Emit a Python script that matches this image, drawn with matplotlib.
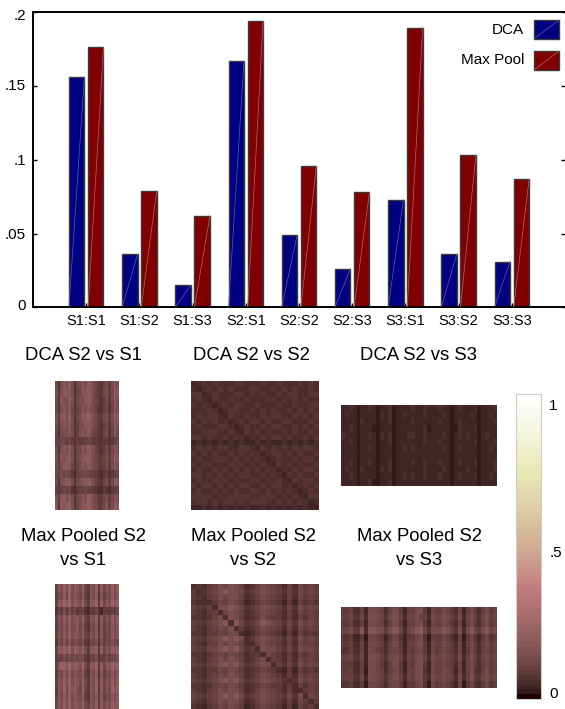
#!/usr/bin/env python3
"""Bar chart of scores per session pair, with similarity matrices underneath."""
import matplotlib

matplotlib.use("Agg")
import matplotlib.pyplot as plt
import numpy as np
from matplotlib.patches import Rectangle
from matplotlib.transforms import ScaledTranslation

W, H = 565, 709

PAIRS = ["S1:S1", "S1:S2", "S1:S3", "S2:S1", "S2:S2", "S2:S3", "S3:S1", "S3:S2", "S3:S3"]
DCA = [0.156, 0.036, 0.015, 0.1665, 0.049, 0.026, 0.073, 0.036, 0.031]
MAX_POOL = [0.176, 0.079, 0.062, 0.194, 0.0955, 0.078, 0.1895, 0.103, 0.0867]

# matrices read by eye on a coarse grid, one hex digit per cell
DCA_S2_S1 = [
    "849A9B 8479A9 BA9754 7958A9", "959BAA 8468AA BB9655 8968BA", "84A99B 94799A BA8754 6958A9",
    "748A8A 7468A9 A98644 6847A9", "95AB9C 8479BA CB9755 8969BA", "859A9A 84689A AA8754 6858A9",
    "74899A 8469A9 B97654 7947A8", "667767 546566 775544 554567", "849A9B 8478A9 BA9654 6958A9",
    "95A9AB 8479AB BA9755 7969BA", "859BAA 7468A9 BA8755 6958A9", "768787 536778 766543 564567",
    "849AAB 8479AA BA9654 7958BA", "656767 435667 665433 543566", "95AB9A 8479A9 CB9755 7968A9",
    "A4BABC 9479BA CB9855 8A69CB",
]
MAX_S2_S1 = [
    "6A9C8D 9BA8C7 5A9C5B 7A8C9B", "598B7C 8A97B6 4A8B4A 698B8A", "6BADAE 9CB9D8 5BAD5C 7B9DAC",
    "475959 685674 365742 655657", "6A9C8C 9AA8C7 5A9C5B 7A8C9B", "598A7B 89A7A6 498A4A 697A8A",
    "6A8B8C 9AA8B7 5A8B5A 698B9A", "497A6A 798795 487949 687987", "6BACAD 9CB9D8 5BAC5C 7B9CAC",
    "576968 797985 476946 686879", "6ADCAE ACB9E8 5BAD5C 7BADBC", "598B7B 8A98B6 4A8B4A 698B8A",
    "6A9C9D 9BA8C8 5A9C5B 7A9C9B", "5B9D8C AC97D7 5B9D4B 7A8DAC", "6A8B8C 8A98B6 4A8A5A 698A9A",
    "7B9C9D 9BA9C8 6A9C5B 8A9CAB",
]
DCA_S2_S2 = [
    "234343 334433 343343 334343", "323434 343334 433434 343343", "442343 334434 343343 443344",
    "343243 343343 334434 343433", "434323 434433 433343 343344", "333432 344334 343433 434343",
    "343443 243343 343443 343434", "434343 323434 434334 433343", "343334 432343 343443 343434",
    "334443 343243 434334 343343", "443433 434323 343443 433434", "232323 232322 323223 232323",
    "343434 433443 243434 343443", "434343 343434 323443 434334", "343344 434343 432343 343443",
    "434433 343434 343243 434334", "343343 434343 434323 343443", "443434 343443 343432 434334",
    "343343 434334 434343 243443", "434434 343443 343443 323434", "343343 434334 434343 432343",
    "444434 344443 344434 343244", "344343 443434 443343 434323", "223232 323232 232323 232322",
]
MAX_S2_S2 = [
    "343568 798634 687653 637565", "534679 A98745 798764 647676", "543568 798634 687653 637565",
    "433357 687523 576542 526454", "654639 9A9745 798764 748676", "543563 798634 687653 637565",
    "443468 398534 586553 536465", "654679 A3A745 7A9764 748676", "543568 793634 687653 637565",
    "443557 687323 576542 526454", "654679 A9A835 798764 748676", "543568 798633 687653 637565",
    "654779 A9A745 398864 748776", "443467 687534 537653 536465", "543568 798634 683653 637565",
    "654679 A9A745 798364 748676", "443557 687534 576532 526454", "543568 798634 687653 637565",
    "654679 A9A745 798764 348676", "443467 687534 576553 536465", "543568 798634 687653 633565",
    "654679 A9A745 798764 748376", "543568 798634 687653 637535", "432457 687523 576542 526453",
]
DCA_S2_S3 = [
    "22321223 21223122 22322322 23221232 22312223", "23221222 21323122 32222322 22321222 23212232",
    "22221322 21223122 22322222 23221232 22212223", "22321222 11222122 22222312 22221132 22312222",
    "32221223 21323122 23322322 22321232 32212322", "22321222 21223122 22222322 23221222 22312223",
    "22221223 21222122 32322222 22321232 22212232", "22221222 21222122 22222222 22221222 22212222",
    "22321223 21223122 22322322 23221232 22312223", "23221322 21323122 22222322 22321222 32212223",
    "22321222 21222122 32322322 23221232 22312232", "22221223 11223122 22222222 22221222 22212222",
]
MAX_S2_S3 = [
    "55633628 87636885 26689527 66875372 68536856", "66744739 98747996 37796638 77986483 79647967",
    "55633628 87636885 26689527 66875372 68536856", "77855A3A A9858AA7 378AB748 88A96493 8A758A78",
    "44522517 76525774 25578416 55764261 57425745", "55633628 87636885 26689527 66875372 68536856",
    "44633628 76536775 26578527 56765372 58536756", "66744729 98647896 37689638 77876483 69647867",
    "55533628 87536885 26589527 66765372 68536756", "55633618 87636785 26689427 66875272 68436856",
    "66644729 87647886 37689538 77876383 69547867", "44533517 76536775 25578417 56764271 57435745",
]

TITLES = ["DCA S2 vs S1", "DCA S2 vs S2", "DCA S2 vs S3",
          "Max Pooled S2\nvs S1", "Max Pooled S2\nvs S2", "Max Pooled S2\nvs S3"]
MATRICES = [DCA_S2_S1, DCA_S2_S2, DCA_S2_S3, MAX_S2_S1, MAX_S2_S2, MAX_S2_S3]


def px_axes(fig, x0, y0, x1, y1):
    """Axes from pixel edges, y counted from the top of the image."""
    return fig.add_axes([x0 / W, 1 - y1 / H, (x1 - x0) / W, (y1 - y0) / H])


def decode(rows):
    return np.array([[int(c, 16) / 58 for c in r if c != " "] for r in rows])


def slashed_bars(ax, x, values, color, slash):
    bars = ax.bar(x, values, width=0.29, color=color, edgecolor="#3a3a3a", lw=1)
    for b in bars:
        ax.plot([b.get_x(), b.get_x() + b.get_width()], [0, b.get_height()],
                color=slash, lw=0.5, zorder=3)


def legend_entry(fig, label, y0, y1, color, slash):
    fig.text(524 / W, 1 - (y0 + y1) / 2 / H, label, ha="right", va="center", fontsize=11)
    fig.add_artist(Rectangle((534 / W, 1 - y1 / H), 25 / W, (y1 - y0) / H, transform=fig.transFigure,
                             facecolor=color, edgecolor="#3a3a3a", lw=1))
    fig.add_artist(plt.Line2D([534 / W, 559 / W], [1 - y1 / H, 1 - y0 / H], color=slash, lw=0.5))


def main():
    plt.rcParams["font.family"] = ["Liberation Sans", "DejaVu Sans"]
    fig = plt.figure(figsize=(W / 100, H / 100), dpi=100)

    ax = px_axes(fig, 33, 12, 565, 307.4)
    x = np.arange(len(PAIRS))
    slashed_bars(ax, x - 0.18, DCA, "#000080", "#5c5cb0")
    slashed_bars(ax, x + 0.18, MAX_POOL, "#800000", "#b06a6a")
    ax.set_xlim(-1, 9)
    ax.set_ylim(0, 0.2)
    ax.set_axisbelow(True)
    ax.set_xticks(x, PAIRS, fontsize=10.5)
    ax.set_yticks([0, 0.05, 0.1, 0.15, 0.2], ["0", ".05", ".1", ".15", ".2"], fontsize=11)
    ax.tick_params(axis="x", direction="in", length=3, width=1, pad=5)
    ax.tick_params(axis="y", direction="in", length=3, width=1, pad=5, right=True)
    # the end labels sit a little inside their ticks
    for label, shift in zip(ax.get_yticklabels(), [3, 0, 0, 1.5, -3]):
        label.set_transform(label.get_transform() + ScaledTranslation(0, shift / 100, fig.dpi_scale_trans))
    ax.spines["right"].set_visible(False)
    for side in ("left", "top", "bottom"):
        ax.spines[side].set_linewidth(1.4)
    legend_entry(fig, "DCA", 20, 39, "#000080", "#5c5cb0")
    legend_entry(fig, "Max Pool", 51, 70, "#800000", "#b06a6a")

    cmap = plt.get_cmap("pink", 64)
    boxes = [(55, 381, 119, 510), (191, 381, 319, 510), (341, 405, 497, 486),
             (55, 584, 119, 709), (191, 584, 319, 709), (341, 607, 497, 688)]
    title_y = [355, 355, 355, 548.5, 548.5, 548.5]
    title_x = [83, 251, 419, 83, 253, 419]
    for box, rows, title, tx, ty in zip(boxes, MATRICES, TITLES, title_x, title_y):
        hm = px_axes(fig, *box)
        im = hm.imshow(decode(rows), cmap=cmap, vmin=0, vmax=1, aspect="auto",
                       interpolation="nearest")
        hm.axis("off")
        fig.text(tx / W, 1 - ty / H, title, ha="center", va="center", fontsize=13.3,
                 linespacing=1.5)

    cax = px_axes(fig, 516, 394, 541, 699)
    cb = fig.colorbar(im, cax=cax)
    cb.set_ticks([0.02, 0.485, 0.964], labels=["0", ".5", "1"], fontsize=11)
    cb.ax.tick_params(length=0, pad=6)
    cb.outline.set_edgecolor("#cccccc")

    fig.savefig("out.png", dpi=100)


if __name__ == "__main__":
    main()
